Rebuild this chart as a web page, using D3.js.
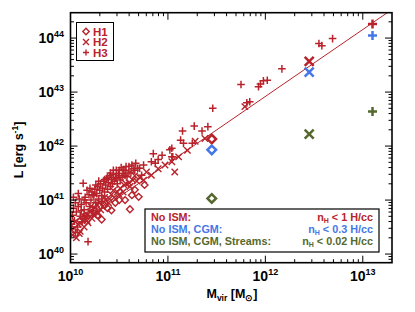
<!DOCTYPE html>
<html><head><meta charset="utf-8">
<script src="https://cdn.jsdelivr.net/npm/d3@7/dist/d3.min.js"></script>
<style>body{margin:0;background:#fff}svg{display:block;font-family:"Liberation Sans",Arial,sans-serif}</style>
</head><body><svg id="c" width="415" height="312"></svg>
<script>
// log10 values
const h3LogM = [10.01,10.02,10.03,10.04,10.05,10.06,10.07,10.08,10.09,10.10,10.11,10.12,10.13,10.14,10.15,10.16,10.17,10.18,10.19,10.20,10.21,10.22,10.23,10.24,10.25,10.26,10.27,10.28,10.29,10.30,10.31,10.32,10.33,10.34,10.35,10.36,10.37,10.38,10.39,10.40,10.41,10.42,10.43,10.44,10.45,10.46,10.47,10.48,10.49,10.50,10.51,10.52,10.54,10.54,10.56,10.56,10.58,10.60,10.62,10.65,10.67,10.71,10.73,10.75,10.83,10.85,10.87,10.90,10.94,11.02,11.04,11.04,11.05,11.13,11.15,11.16,11.25,11.27,11.35,11.41,11.46,11.75,11.81,11.84,11.93,11.95,11.98,12.02,12.17,12.55,12.58,12.69,
  10.03,10.05,10.08,10.11,10.14,10.17,10.20,10.23,10.26,10.29,10.32,10.35,10.38,10.41,10.44,10.47,10.50,10.53,10.57,10.60,10.63,10.66,10.69];
const h3LogL = [40.55,40.72,40.85,40.62,40.95,40.78,40.50,40.88,41.02,40.70,40.92,40.60,41.31,40.82,41.05,40.95,40.72,40.23,41.10,40.88,41.00,41.15,40.80,41.08,41.20,40.95,41.12,41.25,41.02,41.18,41.30,41.08,41.22,41.35,41.15,41.28,41.40,41.20,41.32,41.45,41.25,41.38,41.30,41.48,41.35,41.42,41.55,41.30,41.49,41.45,41.37,41.60,41.49,41.55,41.55,41.46,41.43,41.62,41.50,41.58,41.68,41.59,41.46,41.65,41.71,41.86,41.68,41.75,41.83,41.93,41.96,41.80,41.80,42.11,42.28,42.05,42.05,42.37,42.28,42.36,42.70,43.14,42.80,42.82,43.10,43.15,43.21,43.22,43.43,43.90,43.86,43.99,
  41.05,40.40,41.12,40.80,41.00,41.18,41.22,41.10,41.28,41.35,40.98,41.38,41.42,41.50,41.55,41.40,41.55,41.42,41.62,41.52,41.65,41.55,41.59];
const h2LogM = [10.02,10.04,10.06,10.08,10.10,10.12,10.14,10.16,10.18,10.20,10.22,10.25,10.28,10.30,10.33,10.36,10.39,10.42,10.45,10.48,10.51,10.54,10.57,10.61,10.64,10.68,10.75,10.78,10.83,10.90,10.97,11.04,11.07,11.11,11.20,11.28,11.38,11.79,
  10.01,10.05,10.09,10.13,10.17,10.21,10.24,10.27,10.31,10.35,10.40,10.44,10.50,10.55,10.60,10.66,10.71];
const h2LogL = [40.35,40.48,40.30,40.55,40.42,40.62,40.50,40.70,40.58,40.78,40.66,40.85,40.75,40.95,40.88,41.00,40.95,41.10,41.05,41.15,41.22,41.15,41.30,41.25,41.37,41.35,41.37,41.52,41.46,41.58,41.65,41.71,41.52,41.80,41.92,42.09,42.14,42.73,
  40.45,40.60,40.38,40.72,40.62,40.88,40.72,40.92,40.82,41.05,41.02,41.18,41.10,41.28,41.32,41.45,41.42];
const h1LogM = [10.10,10.15,10.20,10.25,10.28,10.32,10.35,10.38,10.42,10.46,10.50,10.56,10.61,10.63,10.66,10.70,10.76];
const h1LogL = [40.62,40.70,40.75,40.82,40.72,40.64,40.90,40.85,40.81,40.95,41.00,41.00,40.83,41.09,41.19,41.06,41.28];
// highlighted haloes: model, shape, logM, logL
const hiModel = ["noISM","noCGM","noStreams","noISM","noCGM","noStreams","noISM","noCGM","noStreams"];
const hiShape = ["diamond","diamond","diamond","x","x","x","plus","plus","plus"];
const hiLogM = [11.45,11.45,11.45,12.45,12.45,12.45,13.10,13.10,13.10];
const hiLogL = [42.13,41.93,41.03,43.57,43.37,42.22,44.26,44.05,42.64];
const fitLogM = [10.0, 13.3];
const fitLogL = [40.44, 44.53];
const xMajor = [10,11,12,13];
const yMajor = [40,41,42,43,44];
const legendNames = ["H1","H2","H3"];
const legendShapes = ["diamond","x","plus"];
const modelLeft = ["No ISM:","No ISM, CGM:","No ISM, CGM, Streams:"];
const modelRight = ["1","0.3","0.02"];
const modelKeys = ["noISM","noCGM","noStreams"];

const RED="#b8232b", BLUE="#4677e6", GREEN="#55692e";
const color = {noISM:RED, noCGM:BLUE, noStreams:GREEN};
const svg = d3.select("#c");
const L=70.5,R=392,T=12.7,B=262.7;
const x = d3.scaleLog().domain([1e10, Math.pow(10,13.3)]).range([L,R]);
const y = d3.scaleLog().domain([Math.pow(10,39.84), Math.pow(10,44.47)]).range([B,T]);

function sym(g, shape, cx, cy, s, col, w){
  let d;
  if(shape==="plus") d=`M${cx-s},${cy}H${cx+s}M${cx},${cy-s}V${cy+s}`;
  else if(shape==="x") d=`M${cx-s},${cy-s}L${cx+s},${cy+s}M${cx-s},${cy+s}L${cx+s},${cy-s}`;
  else d=`M${cx},${cy-s}L${cx+s},${cy}L${cx},${cy+s}L${cx-s},${cy}Z`;
  g.append("path").attr("d",d).attr("stroke",col).attr("stroke-width",w).attr("fill","none");
}
svg.append("clipPath").attr("id","pc").append("rect").attr("x",L).attr("y",T).attr("width",R-L).attr("height",B-T);
const gp = svg.append("g").attr("clip-path","url(#pc)");
gp.append("line").attr("x1",x(10**fitLogM[0])).attr("y1",y(10**fitLogL[0]))
  .attr("x2",x(10**fitLogM[1])).attr("y2",y(10**fitLogL[1]))
  .attr("stroke",RED).attr("stroke-width",1);
h3LogM.forEach((m,i)=>sym(gp,"plus",x(10**m),y(10**h3LogL[i]),3.8,RED,1.5));
h2LogM.forEach((m,i)=>sym(gp,"x",x(10**m),y(10**h2LogL[i]),3.2,RED,1.4));
h1LogM.forEach((m,i)=>sym(gp,"diamond",x(10**m),y(10**h1LogL[i]),3.4,RED,1.4));
hiLogM.forEach((m,i)=>sym(gp,hiShape[i],x(10**m),y(10**hiLogL[i]),hiShape[i]==="diamond"?4.3:4.5,color[hiModel[i]],2.5));

// axes: ticks inward on all four sides
const ax = svg.append("g").attr("stroke","#000");
function minors(lo,hi){const a=[];for(let d=Math.floor(lo);d<=Math.ceil(hi);d++)for(let k=1;k<10;k++){const v=Math.log10(k)+d;if(v>=lo-1e-9&&v<=hi)a.push({v,major:k===1});}return a;}
const xd=x.domain().map(Math.log10), yd=y.domain().map(Math.log10);
minors(xd[0],xd[1]).forEach(t=>{const px=x(10**t.v),len=t.major?7:3.5;
  ax.append("line").attr("x1",px).attr("x2",px).attr("y1",B).attr("y2",B-len).attr("stroke-width",1);
  ax.append("line").attr("x1",px).attr("x2",px).attr("y1",T).attr("y2",T+len).attr("stroke-width",1);});
minors(yd[0],yd[1]).forEach(t=>{const py=y(10**t.v),len=t.major?7:3.5;
  ax.append("line").attr("y1",py).attr("y2",py).attr("x1",L).attr("x2",L+len).attr("stroke-width",1);
  ax.append("line").attr("y1",py).attr("y2",py).attr("x1",R).attr("x2",R-len).attr("stroke-width",1);});
svg.append("rect").attr("x",L).attr("y",T).attr("width",R-L).attr("height",B-T).attr("fill","none").attr("stroke","#000").attr("stroke-width",1.6);

// tick labels
xMajor.forEach(e=>{const t=svg.append("text").attr("x",x(10**e)).attr("y",281).attr("text-anchor","middle").attr("font-weight","bold").attr("font-size",14);
  t.append("tspan").text("10"); t.append("tspan").attr("font-size",9).attr("dy",-6).text(e);});
yMajor.forEach(e=>{const t=svg.append("text").attr("x",64).attr("y",y(10**e)+5).attr("text-anchor","end").attr("font-weight","bold").attr("font-size",14);
  t.append("tspan").text("10"); t.append("tspan").attr("font-size",9).attr("dy",-6).text(e);});

// axis titles
const xt=svg.append("text").attr("x",232).attr("y",298).attr("text-anchor","middle").attr("font-weight","bold").attr("font-size",12.5);
xt.append("tspan").text("M"); xt.append("tspan").attr("font-size",8.5).attr("dy",3).text("vir");
xt.append("tspan").attr("dy",-3).text(" [M"); xt.append("tspan").attr("font-size",8.5).attr("dy",3).text("\u2299"); xt.append("tspan").attr("dy",-3).text("]");
const yt=svg.append("text").attr("transform","translate(23,150) rotate(-90)").attr("text-anchor","middle").attr("font-weight","bold").attr("font-size",12.5);
yt.append("tspan").text("L [erg s"); yt.append("tspan").attr("font-size",8.5).attr("dy",-5).text("-1"); yt.append("tspan").attr("dy",5).text("]");

// top-left legend
const lg=svg.append("g");
lg.append("rect").attr("x",76.5).attr("y",22.5).attr("width",37).attr("height",38).attr("fill","#fff").attr("stroke","#000").attr("stroke-width",1);
legendNames.forEach((n,i)=>{const cy=31.5+i*10.5;
  sym(lg,legendShapes[i],86,cy,legendShapes[i]==="diamond"?3.2:3,RED,1.4);
  lg.append("text").attr("x",93).attr("y",cy+4.2).attr("font-weight","bold").attr("font-size",11.5).attr("fill",RED).text(n);});

// bottom legend
const bl=svg.append("g");
bl.append("rect").attr("x",145).attr("y",209).attr("width",234).attr("height",43).attr("fill","#fff").attr("stroke","#000").attr("stroke-width",1.2);
modelLeft.forEach((s,i)=>{const by=221+i*12.2, c=color[modelKeys[i]];
  bl.append("text").attr("x",151).attr("y",by).attr("font-weight","bold").attr("font-size",10.8).attr("fill",c).text(s);
  const t=bl.append("text").attr("x",373).attr("y",by).attr("text-anchor","end").attr("font-weight","bold").attr("font-size",10.8).attr("fill",c);
  t.append("tspan").text("n"); t.append("tspan").attr("font-size",7).attr("dy",2).text("H"); t.append("tspan").attr("dy",-2).text(" < "+modelRight[i]+" H/cc");});
</script></body></html>
